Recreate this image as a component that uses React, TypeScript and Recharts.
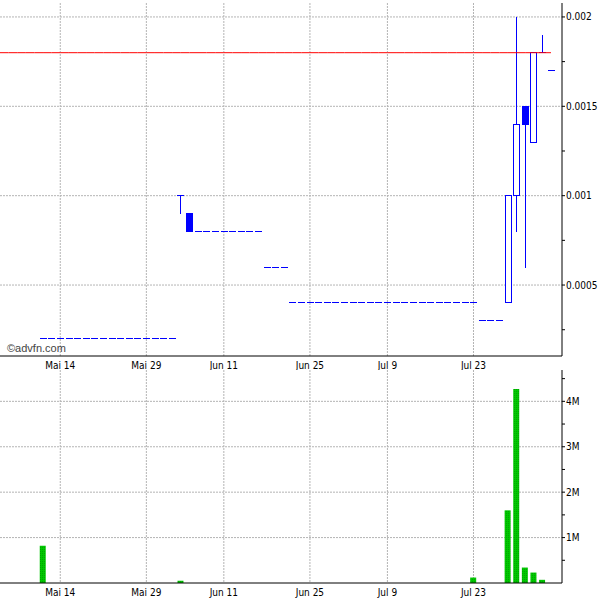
import { ComposedChart, Bar, Line, XAxis, YAxis, CartesianGrid } from 'recharts';

// trading-day index (0 = May 3), days 0-4 carry no quotes
const days = Array.from({ length: 65 }, (_, i) => i);

// OHLC for days 5..64
const opens = [
  0.0002, 0.0002, 0.0002, 0.0002, 0.0002, 0.0002, 0.0002, 0.0002,
  0.0002, 0.0002, 0.0002, 0.0002, 0.0002, 0.0002, 0.0002, 0.0002,
  0.001, 0.0009,
  0.0008, 0.0008, 0.0008, 0.0008, 0.0008, 0.0008, 0.0008, 0.0008,
  0.0006, 0.0006, 0.0006,
  0.0004, 0.0004, 0.0004, 0.0004, 0.0004, 0.0004, 0.0004, 0.0004, 0.0004, 0.0004, 0.0004,
  0.0004, 0.0004, 0.0004, 0.0004, 0.0004, 0.0004, 0.0004, 0.0004, 0.0004, 0.0004, 0.0004,
  0.0003, 0.0003, 0.0003,
  0.0004, 0.001, 0.0015, 0.0013, 0.0018, 0.0017,
];
const highs = [
  0.0002, 0.0002, 0.0002, 0.0002, 0.0002, 0.0002, 0.0002, 0.0002,
  0.0002, 0.0002, 0.0002, 0.0002, 0.0002, 0.0002, 0.0002, 0.0002,
  0.001, 0.0009,
  0.0008, 0.0008, 0.0008, 0.0008, 0.0008, 0.0008, 0.0008, 0.0008,
  0.0006, 0.0006, 0.0006,
  0.0004, 0.0004, 0.0004, 0.0004, 0.0004, 0.0004, 0.0004, 0.0004, 0.0004, 0.0004, 0.0004,
  0.0004, 0.0004, 0.0004, 0.0004, 0.0004, 0.0004, 0.0004, 0.0004, 0.0004, 0.0004, 0.0004,
  0.0003, 0.0003, 0.0003,
  0.001, 0.002, 0.0015, 0.0018, 0.0019, 0.0017,
];
const lows = [
  0.0002, 0.0002, 0.0002, 0.0002, 0.0002, 0.0002, 0.0002, 0.0002,
  0.0002, 0.0002, 0.0002, 0.0002, 0.0002, 0.0002, 0.0002, 0.0002,
  0.0009, 0.0008,
  0.0008, 0.0008, 0.0008, 0.0008, 0.0008, 0.0008, 0.0008, 0.0008,
  0.0006, 0.0006, 0.0006,
  0.0004, 0.0004, 0.0004, 0.0004, 0.0004, 0.0004, 0.0004, 0.0004, 0.0004, 0.0004, 0.0004,
  0.0004, 0.0004, 0.0004, 0.0004, 0.0004, 0.0004, 0.0004, 0.0004, 0.0004, 0.0004, 0.0004,
  0.0003, 0.0003, 0.0003,
  0.0004, 0.0008, 0.0006, 0.0013, 0.0018, 0.0017,
];
const closes = [
  0.0002, 0.0002, 0.0002, 0.0002, 0.0002, 0.0002, 0.0002, 0.0002,
  0.0002, 0.0002, 0.0002, 0.0002, 0.0002, 0.0002, 0.0002, 0.0002,
  0.001, 0.0008,
  0.0008, 0.0008, 0.0008, 0.0008, 0.0008, 0.0008, 0.0008, 0.0008,
  0.0006, 0.0006, 0.0006,
  0.0004, 0.0004, 0.0004, 0.0004, 0.0004, 0.0004, 0.0004, 0.0004, 0.0004, 0.0004, 0.0004,
  0.0004, 0.0004, 0.0004, 0.0004, 0.0004, 0.0004, 0.0004, 0.0004, 0.0004, 0.0004, 0.0004,
  0.0003, 0.0003, 0.0003,
  0.001, 0.0014, 0.0014, 0.0018, 0.0018, 0.0017,
];
const volumes = [
  820000, 0, 0, 0, 0, 0, 0, 0, 0, 0, 0, 0, 0, 0, 0, 0,
  50000, 0,
  0, 0, 0, 0, 0, 0, 0, 0,
  0, 0, 0,
  0, 0, 0, 0, 0, 0, 0, 0, 0, 0, 0,
  0, 0, 0, 0, 0, 0, 0, 0, 0, 0, 120000,
  0, 0, 0,
  1600000, 4270000, 340000, 230000, 70000, 0,
];
const firstQuoteDay = 5;
const refPrice = 0.0018;

const tickDays = [7, 17, 26, 36, 45, 55];
const tickLabels = ['Mai 14', 'Mai 29', 'Jun 11', 'Jun 25', 'Jul 9', 'Jul 23'];
const priceTicks = [0.00025, 0.0005, 0.00075, 0.001, 0.00125, 0.0015, 0.00175, 0.002];
const priceGrid = [0.0005, 0.001, 0.0015, 0.002];
const volTicks = [500000, 1000000, 1500000, 2000000, 2500000, 3000000, 3500000, 4000000, 4500000];
const volGrid = [1000000, 2000000, 3000000, 4000000];

const data = days.map((day) => {
  const k = day - firstQuoteDay;
  const has = k >= 0;
  return {
    day,
    open: has ? opens[k] : null,
    high: has ? highs[k] : null,
    low: has ? lows[k] : null,
    close: has ? closes[k] : null,
    volume: has ? volumes[k] : null,
    refLevel: refPrice,
  };
});

const X_DOMAIN: [number, number] = [0, 65.28];
const font = { fontSize: 10, fill: '#000', fontFamily: '"Liberation Sans Narrow", "DejaVu Sans Condensed", "Liberation Sans", Arial, sans-serif' };
const gridColor = '#b4b4b4';
const blue = '#0000ff';

const dateLabel = (v: number) => {
  const i = tickDays.indexOf(v);
  return i >= 0 ? tickLabels[i] : '';
};
const priceLabel = (v: number) => (priceGrid.some((g) => Math.abs(g - v) < 1e-9) ? String(+v.toFixed(4)) : '');
const volLabel = (v: number) => (v % 1000000 === 0 ? `${v / 1000000}M` : '');

// pixel snapping so 1px strokes stay crisp
const crisp = (v: number) => Math.round(v - 0.5) + 0.5;

const Candle = (props: any) => {
  const { x, y, width, height, payload } = props;
  if (!payload || payload.high == null) return null;
  const { open, close, high, low } = payload;
  const cx = crisp(x + width / 2);
  const span = high - low;
  const toY = (v: number) => crisp(span > 0 ? y + ((high - v) / span) * height : y);
  const top = Math.max(open, close);
  const bot = Math.min(open, close);
  const left = cx - 3;
  return (
    <g shapeRendering="crispEdges">
      {high > top && <line x1={cx} x2={cx} y1={toY(high)} y2={toY(top)} stroke={blue} />}
      {low < bot && <line x1={cx} x2={cx} y1={toY(bot)} y2={toY(low)} stroke={blue} />}
      {open === close ? (
        <line x1={left - 0.5} x2={left + 6.5} y1={toY(open)} y2={toY(open)} stroke={blue} />
      ) : (
        <rect
          x={left}
          y={toY(top)}
          width={6}
          height={toY(bot) - toY(top)}
          fill={close < open ? blue : '#fff'}
          stroke={blue}
        />
      )}
    </g>
  );
};

export default function App() {
  return (
    <div style={{ position: 'absolute', top: 0, left: 0, width: 600, height: 600, background: '#fff' }}>
      <div style={{ position: 'absolute', top: 0, left: 0 }}>
        <ComposedChart width={600} height={370} data={data} margin={{ top: 3, right: 0, bottom: 0, left: 0 }}>
          <CartesianGrid
            stroke={gridColor}
            strokeDasharray="2 1"
            horizontalValues={priceGrid}
            verticalValues={tickDays}
            xAxisId="x"
            yAxisId="p"
          />
          <XAxis
            xAxisId="x"
            dataKey="day"
            type="number"
            domain={X_DOMAIN}
            allowDataOverflow
            ticks={tickDays}
            interval={0}
            tickFormatter={dateLabel}
            tick={font}
            tickLine={false}
            tickSize={0}
            tickMargin={6}
            height={14}
            axisLine={{ stroke: '#000' }}
          />
          <XAxis xAxisId="top" dataKey="day" type="number" domain={X_DOMAIN} orientation="top" height={0} tick={false} tickLine={false} axisLine={{ stroke: '#000' }} />
          <YAxis
            yAxisId="p"
            orientation="right"
            type="number"
            domain={[0.000103, 0.002078]}
            allowDataOverflow
            ticks={priceTicks}
            interval={0}
            tickFormatter={priceLabel}
            tick={font}
            tickSize={3}
            tickMargin={1}
            width={38}
            axisLine={{ stroke: '#000' }}
            tickLine={{ stroke: '#000' }}
          />
          <YAxis
            yAxisId="pl"
            orientation="left"
            type="number"
            domain={[0.000103, 0.002078]}
            allowDataOverflow
            ticks={priceTicks}
            interval={0}
            mirror
            tick={false}
            tickSize={3}
            width={0}
            axisLine={{ stroke: '#000' }}
            tickLine={{ stroke: '#000' }}
          />
          <Line
            xAxisId="x"
            yAxisId="p"
            dataKey="refLevel"
            stroke="#ff0000"
            strokeWidth={1}
            dot={false}
            activeDot={false}
            isAnimationActive={false}
          />
          <Bar
            xAxisId="x"
            yAxisId="p"
            dataKey={(d: any) => (d.high == null ? null : [d.low, d.high])}
            barSize={7}
            shape={(p: any) => <Candle {...p} />}
            isAnimationActive={false}
          />
        </ComposedChart>
      </div>
      <div
        style={{
          position: 'absolute',
          left: 7,
          top: 341,
          fontSize: 11,
          color: '#444',
          fontFamily: '"Liberation Sans", Arial, sans-serif',
          lineHeight: '14px',
        }}
      >
        ©advfn.com
      </div>
      <div style={{ position: 'absolute', top: 367, left: 0 }}>
        <ComposedChart width={600} height={233} data={data} margin={{ top: 3, right: 0, bottom: 0, left: 0 }}>
          <defs>
            <pattern id="volFill" width="2" height="2" patternUnits="userSpaceOnUse">
              <rect width="2" height="2" fill="#00c800" />
              <rect width="1" height="1" fill="#00a400" />
            </pattern>
          </defs>
          <CartesianGrid
            stroke={gridColor}
            strokeDasharray="2 1"
            horizontalValues={volGrid}
            verticalValues={tickDays}
            xAxisId="x"
            yAxisId="v"
          />
          <XAxis
            xAxisId="x"
            dataKey="day"
            type="number"
            domain={X_DOMAIN}
            allowDataOverflow
            ticks={tickDays}
            interval={0}
            tickFormatter={dateLabel}
            tick={font}
            tickLine={false}
            tickSize={0}
            tickMargin={6}
            height={17}
            axisLine={{ stroke: '#000' }}
          />
          <XAxis xAxisId="top" dataKey="day" type="number" domain={X_DOMAIN} orientation="top" height={0} tick={false} tickLine={false} axisLine={{ stroke: '#000' }} />
          <YAxis
            yAxisId="v"
            orientation="right"
            type="number"
            domain={[0, 4690000]}
            allowDataOverflow
            ticks={volTicks}
            interval={0}
            tickFormatter={volLabel}
            tick={font}
            tickSize={3}
            tickMargin={1}
            width={38}
            axisLine={{ stroke: '#000' }}
            tickLine={{ stroke: '#000' }}
          />
          <YAxis
            yAxisId="vl"
            orientation="left"
            type="number"
            domain={[0, 4690000]}
            ticks={volTicks}
            interval={0}
            mirror
            tick={false}
            tickSize={3}
            width={0}
            axisLine={{ stroke: '#000' }}
            tickLine={{ stroke: '#000' }}
          />
          <Bar xAxisId="x" yAxisId="v" dataKey="volume" barSize={6} fill="url(#volFill)" isAnimationActive={false} />
        </ComposedChart>
      </div>
    </div>
  );
}
